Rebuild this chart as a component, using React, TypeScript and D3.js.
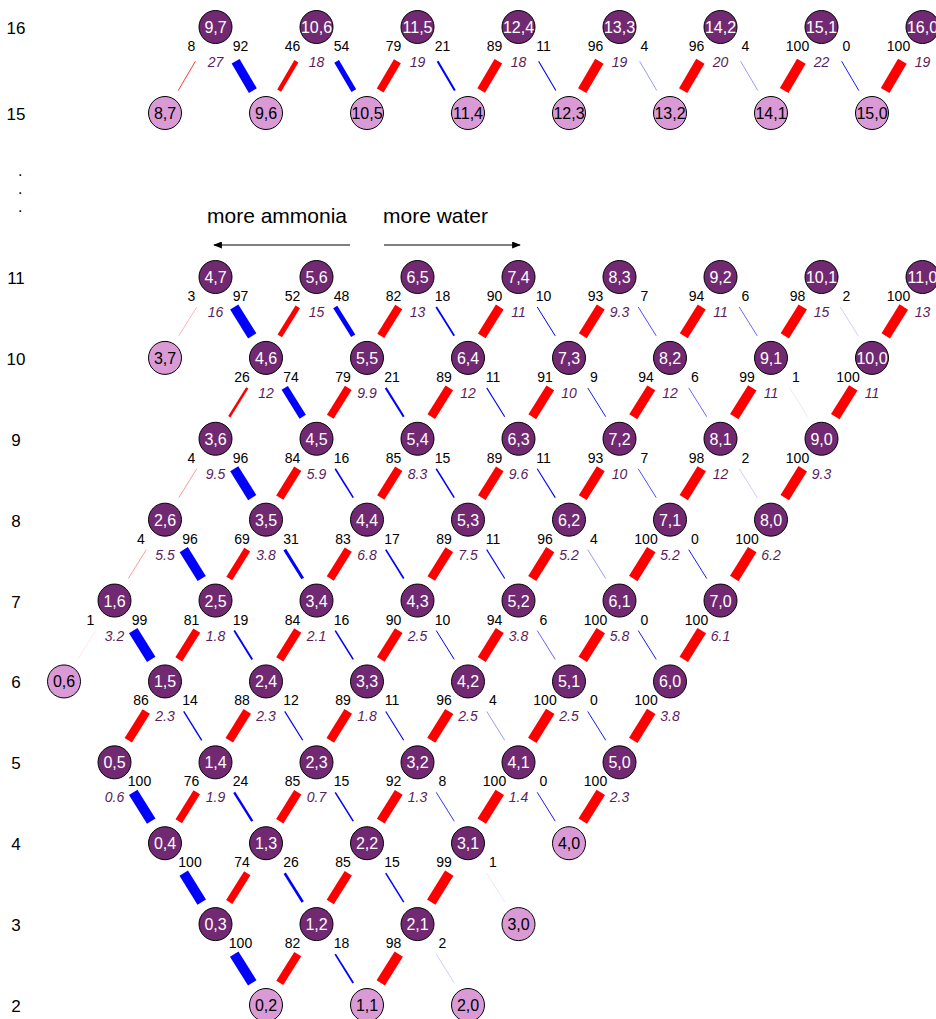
import React from "react";
import * as d3 from "d3";

// Row: [a, b, share from (a-1,b) (red), share from (a,b-1) (blue), italic value]
type Row = [number, number, number | null, number | null, number | null];

const level2: Row[] = [[0, 2, null, null, null], [1, 1, null, null, null], [2, 0, null, null, null]];
const level3: Row[] = [[0, 3, null, 100, null], [1, 2, 82, 18, null], [2, 1, 98, 2, null], [3, 0, null, null, null]];
const level4: Row[] = [[0, 4, null, 100, null], [1, 3, 74, 26, null], [2, 2, 85, 15, null], [3, 1, 99, 1, null], [4, 0, null, null, null]];
const level5: Row[] = [[0, 5, null, 100, 0.6], [1, 4, 76, 24, 1.9], [2, 3, 85, 15, 0.7], [3, 2, 92, 8, 1.3], [4, 1, 100, 0, 1.4], [5, 0, 100, null, 2.3]];
const level6: Row[] = [[0, 6, null, null, null], [1, 5, 86, 14, 2.3], [2, 4, 88, 12, 2.3], [3, 3, 89, 11, 1.8], [4, 2, 96, 4, 2.5], [5, 1, 100, 0, 2.5], [6, 0, 100, null, 3.8]];
const level7: Row[] = [[1, 6, 1, 99, 3.2], [2, 5, 81, 19, 1.8], [3, 4, 84, 16, 2.1], [4, 3, 90, 10, 2.5], [5, 2, 94, 6, 3.8], [6, 1, 100, 0, 5.8], [7, 0, 100, null, 6.1]];
const level8: Row[] = [[2, 6, 4, 96, 5.5], [3, 5, 69, 31, 3.8], [4, 4, 83, 17, 6.8], [5, 3, 89, 11, 7.5], [6, 2, 96, 4, 5.2], [7, 1, 100, 0, 5.2], [8, 0, 100, null, 6.2]];
const level9: Row[] = [[3, 6, 4, 96, 9.5], [4, 5, 84, 16, 5.9], [5, 4, 85, 15, 8.3], [6, 3, 89, 11, 9.6], [7, 2, 93, 7, 10], [8, 1, 98, 2, 12], [9, 0, 100, null, 9.3]];
const level10: Row[] = [[3, 7, null, null, null], [4, 6, 26, 74, 12], [5, 5, 79, 21, 9.9], [6, 4, 89, 11, 12], [7, 3, 91, 9, 10], [8, 2, 94, 6, 12], [9, 1, 99, 1, 11], [10, 0, 100, null, 11]];
const level11: Row[] = [[4, 7, 3, 97, 16], [5, 6, 52, 48, 15], [6, 5, 82, 18, 13], [7, 4, 90, 10, 11], [8, 3, 93, 7, 9.3], [9, 2, 94, 6, 11], [10, 1, 98, 2, 15], [11, 0, 100, null, 13]];
const level15: Row[] = [[8, 7, null, null, null], [9, 6, null, null, null], [10, 5, null, null, null], [11, 4, null, null, null], [12, 3, null, null, null], [13, 2, null, null, null], [14, 1, null, null, null], [15, 0, null, null, null]];
const level16: Row[] = [[9, 7, 8, 92, 27], [10, 6, 46, 54, 18], [11, 5, 79, 21, 19], [12, 4, 89, 11, 18], [13, 3, 96, 4, 19], [14, 2, 96, 4, 20], [15, 1, 100, 0, 22], [16, 0, 100, null, 19]];

const levelRows: [number, Row[]][] = [
  [2, level2], [3, level3], [4, level4], [5, level5], [6, level6], [7, level7],
  [8, level8], [9, level9], [10, level10], [11, level11], [15, level15], [16, level16],
];

const axisLabels = ["16", "15", ".", ".", ".", "11", "10", "9", "8", "7", "6", "5", "4", "3", "2"];
const axisLevels = [16, 15, 13.5, 13.05, 12.6, 11, 10, 9, 8, 7, 6, 5, 4, 3, 2];

const annotations = ["more ammonia", "more water"];

const DARK = "#712a72";
const ITALIC = "#5a1d5d";
const LIGHT = "#d99ad6";
const RED = "#ff0000";
const BLUE = "#0000ff";
const FONT = "'Liberation Sans', Arial, Helvetica, sans-serif";

export default function App() {
  const W = 936, H = 1019;
  const y = d3.scaleLinear().domain([2, 11, 15, 16]).range([1005, 277, 113, 27]);
  const x = d3.scaleLinear().domain([0, 1]).range([367, 417.5]);
  const col = (a: number, b: number, n: number) => a - b - (n >= 15 ? 5 : 0);
  const R = 16.5;

  type N = { a: number; b: number; n: number; x: number; y: number; red: number | null; blue: number | null; it: number | null };
  const nodes: N[] = [];
  const pos = new Map<string, N>();
  levelRows.forEach(([n, rows]) => {
    rows.forEach(([a, b, red, blue, it]) => {
      const nd = { a, b, n, x: x(col(a, b, n)), y: y(n), red, blue, it };
      nodes.push(nd);
      pos.set(`${a},${b}`, nd);
    });
  });

  type E = { x1: number; y1: number; x2: number; y2: number; w: number; color: string; key: string };
  const edges: E[] = [];
  const mk = (src: N | undefined, tgt: N, pct: number, color: string, key: string) => {
    if (!src) return;
    const dx = tgt.x - src.x, dy = tgt.y - src.y;
    const L = Math.hypot(dx, dy);
    const ux = dx / L, uy = dy / L;
    edges.push({
      x1: src.x + ux * 26, y1: src.y + uy * 26,
      x2: src.x + ux * 60, y2: src.y + uy * 60,
      w: pct === 0 ? 0.9 : pct / 10, color, key,
    });
  };
  nodes.forEach((nd) => {
    if (nd.red !== null) mk(pos.get(`${nd.a - 1},${nd.b}`), nd, nd.red, RED, `r${nd.a},${nd.b}`);
    if (nd.blue !== null) mk(pos.get(`${nd.a},${nd.b - 1}`), nd, nd.blue, BLUE, `b${nd.a},${nd.b}`);
  });

  return (
    <svg width={W} height={H} style={{ position: "absolute", left: 0, top: 0, background: "#fff" }} fontFamily={FONT}>
      <defs>
        <marker id="ah" viewBox="0 0 10 8" refX="9" refY="4" markerWidth="9" markerHeight="7" markerUnits="userSpaceOnUse" orient="auto">
          <path d="M0,0 L10,4 L0,8 Z" fill="#000" />
        </marker>
      </defs>
      <rect x={0} y={0} width={W} height={H} fill="#fff" />

      {axisLabels.map((t, i) => (
        t === "." ? (
          <text key={`ax${i}`} x={18} y={y(axisLevels[i]) + 1} fontSize={16} fill="#000">{t}</text>
        ) : (
          <text key={`ax${i}`} x={16} y={y(axisLevels[i]) + 7} fontSize={17} textAnchor="middle" fill="#000">{t}</text>
        )
      ))}

      <text x={207} y={223} fontSize={21} fill="#000">{annotations[0]}</text>
      <text x={383} y={223} fontSize={21} fill="#000">{annotations[1]}</text>
      <line x1={350} y1={245} x2={214} y2={245} stroke="#000" strokeWidth={1} markerEnd="url(#ah)" />
      <line x1={384} y1={245} x2={520} y2={245} stroke="#000" strokeWidth={1} markerEnd="url(#ah)" />

      {edges.map((e) => (
        <line key={e.key} x1={e.x1} y1={e.y1} x2={e.x2} y2={e.y2} stroke={e.color} strokeWidth={e.w} strokeLinecap="butt" />
      ))}

      {nodes.map((nd) => {
        const light = nd.red === null && nd.blue === null;
        return (
          <g key={`n${nd.a},${nd.b}`}>
            <circle cx={nd.x} cy={nd.y} r={R} fill={light ? LIGHT : DARK} stroke="#000" strokeWidth={1} />
            <text x={nd.x} y={nd.y + 6} textAnchor="middle" fontSize={16} fill={light ? "#000" : "#fff"}>{`${nd.a},${nd.b}`}</text>
            {nd.red !== null && (
              <text x={nd.x - 24} y={nd.y + 24} textAnchor="middle" fontSize={14} fill="#000">{nd.red}</text>
            )}
            {nd.blue !== null && (
              <text x={nd.x + 25} y={nd.y + 24} textAnchor="middle" fontSize={14} fill="#000">{nd.blue}</text>
            )}
            {nd.it !== null && (
              <text x={nd.x} y={nd.y + 40} textAnchor="middle" fontSize={14} fontStyle="italic" fill={ITALIC}>{nd.it}</text>
            )}
          </g>
        );
      })}
    </svg>
  );
}
